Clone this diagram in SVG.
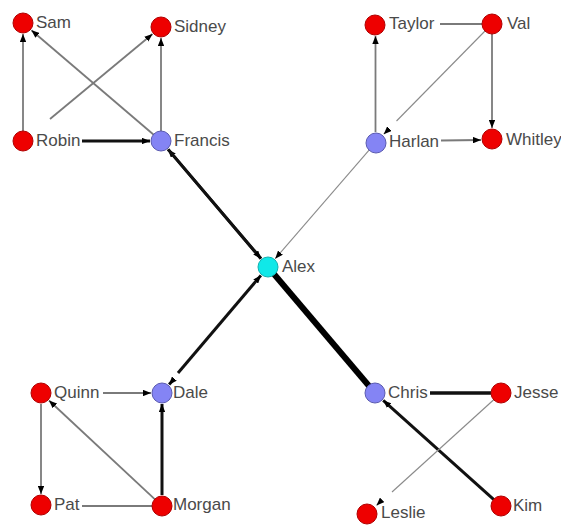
<svg xmlns="http://www.w3.org/2000/svg" width="561" height="525" viewBox="0 0 561 525">
  <style>
    .lbl { font-family: "Liberation Sans", Arial, sans-serif; font-size: 17px; fill: #4a4a4a; }
    .red { fill: #ee0000; stroke: #b00000; stroke-width: 1; }
    .blue { fill: #8484f4; stroke: #5a5ab0; stroke-width: 1; }
    .cyan { fill: #10e8e8; stroke: #10b0b0; stroke-width: 1; }
    .thin { stroke: #7a7a7a; stroke-width: 1.8; fill: none; }
    .hair { stroke: #8a8a8a; stroke-width: 1.1; fill: none; }
    .bold { stroke: #111; stroke-width: 3; fill: none; }
    .heavy { stroke: #000; stroke-width: 6; fill: none; }
    .arr { marker-end: url(#ah); }
  </style>
  <defs>
    <marker id="ah" viewBox="0 0 10 8" refX="10" refY="4" markerWidth="8" markerHeight="6.5" markerUnits="userSpaceOnUse" orient="auto">
      <path d="M0,0 L10,4 L0,8 Z" fill="#000"/>
    </marker>
  </defs>
  <rect width="561" height="525" fill="#fff"/>

  <g id="connectors">
    <!-- upper-left cluster -->
    <line class="thin arr" x1="23" y1="131" x2="23" y2="34"/>
    <line class="thin arr" x1="50" y1="119" x2="152.5" y2="34"/>
    <line class="bold arr" x1="82" y1="141" x2="150" y2="141"/>
    <line class="thin arr" x1="153.4" y1="134.5" x2="31.4" y2="30.2"/>
    <line class="thin arr" x1="161" y1="131" x2="161" y2="38"/>
    <!-- Francis <-> Alex -->
    <line class="bold arr" x1="261" y1="258.6" x2="168.1" y2="149.4"/>
    <line class="bold arr" x1="168.1" y1="149.4" x2="260.9" y2="258.6"/>
    <!-- upper-right cluster -->
    <line class="hair arr" x1="369.5" y1="149.6" x2="275.2" y2="258.7"/>
    <line class="thin arr" x1="375.5" y1="132" x2="375.5" y2="36"/>
    <line class="thin arr" x1="441" y1="140.5" x2="481" y2="140"/>
    <line class="thin" x1="440" y1="24" x2="482" y2="24"/>
    <line class="thin arr" x1="492" y1="34" x2="492" y2="128"/>
    <line class="hair" x1="485" y1="31" x2="396.5" y2="121"/>
    <line class="hair arr" x1="389" y1="129" x2="383.7" y2="134.2"/>
    <!-- lower-left cluster -->
    <line class="bold arr" x1="178" y1="373" x2="260.9" y2="275.4"/>
    <line class="bold arr" x1="174" y1="379" x2="169.1" y2="384.6"/>
    <line class="thin arr" x1="103" y1="393" x2="151" y2="393"/>
    <line class="thin arr" x1="41" y1="404" x2="41" y2="494"/>
    <line class="thin arr" x1="154.7" y1="499.2" x2="49" y2="400.5"/>
    <line class="bold arr" x1="162" y1="495" x2="162" y2="404"/>
    <line class="thin" x1="82" y1="506" x2="152" y2="506"/>
    <!-- lower-right cluster -->
    <line class="heavy" x1="268" y1="267" x2="375" y2="393"/>
    <line class="bold" x1="430" y1="393" x2="491" y2="393" style="stroke-width:3.5"/>
    <line class="bold arr" x1="493.6" y1="499.3" x2="383.2" y2="400.3"/>
    <line class="hair" x1="494" y1="399.5" x2="392" y2="492"/>
    <line class="hair arr" x1="381" y1="501" x2="376.5" y2="505.5"/>
  </g>

  <g id="Sam"><ellipse class="red" cx="23" cy="23" rx="10" ry="10"/><text class="lbl" x="36" y="28">Sam</text></g>
  <g id="Sidney"><ellipse class="red" cx="161" cy="27" rx="10" ry="10"/><text class="lbl" x="174" y="32">Sidney</text></g>
  <g id="Robin"><ellipse class="red" cx="23" cy="141" rx="10" ry="10"/><text class="lbl" x="36" y="146">Robin</text></g>
  <g id="Francis"><ellipse class="blue" cx="161" cy="141" rx="10" ry="10"/><text class="lbl" x="174" y="146">Francis</text></g>
  <g id="Taylor"><ellipse class="red" cx="375" cy="25" rx="10" ry="10"/><text class="lbl" x="389" y="29">Taylor</text></g>
  <g id="Val"><ellipse class="red" cx="492" cy="24" rx="10" ry="10"/><text class="lbl" x="507" y="29">Val</text></g>
  <g id="Harlan"><ellipse class="blue" cx="376" cy="143" rx="10" ry="10"/><text class="lbl" x="389" y="147">Harlan</text></g>
  <g id="Whitley"><ellipse class="red" cx="492" cy="139" rx="10" ry="10"/><text class="lbl" x="506" y="145">Whitley</text></g>
  <g id="Alex"><ellipse class="cyan" cx="268" cy="267" rx="10" ry="10"/><text class="lbl" x="282" y="272">Alex</text></g>
  <g id="Quinn"><ellipse class="red" cx="41" cy="393" rx="10" ry="10"/><text class="lbl" x="54" y="398">Quinn</text></g>
  <g id="Dale"><ellipse class="blue" cx="162" cy="393" rx="10" ry="10"/><text class="lbl" x="173" y="398">Dale</text></g>
  <g id="Pat"><ellipse class="red" cx="41" cy="505" rx="10" ry="10"/><text class="lbl" x="54" y="510">Pat</text></g>
  <g id="Morgan"><ellipse class="red" cx="162" cy="506" rx="10" ry="10"/><text class="lbl" x="173" y="510">Morgan</text></g>
  <g id="Chris"><ellipse class="blue" cx="375" cy="393" rx="10" ry="10"/><text class="lbl" x="388" y="398">Chris</text></g>
  <g id="Jesse"><ellipse class="red" cx="501" cy="393" rx="10" ry="10"/><text class="lbl" x="514" y="398">Jesse</text></g>
  <g id="Leslie"><ellipse class="red" cx="367" cy="514" rx="10" ry="10"/><text class="lbl" x="381" y="518">Leslie</text></g>
  <g id="Kim"><ellipse class="red" cx="501" cy="506" rx="10" ry="10"/><text class="lbl" x="513" y="511">Kim</text></g>
</svg>
